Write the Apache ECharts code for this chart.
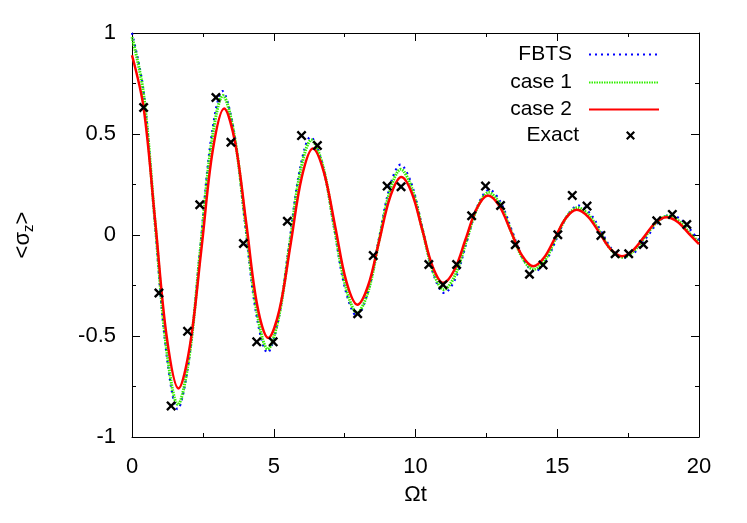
<!DOCTYPE html>
<html>
<head>
<meta charset="utf-8">
<script src="https://cdn.jsdelivr.net/npm/echarts@6/dist/echarts.min.js"></script>
<style>
html,body{margin:0;padding:0;background:#fff;}
#c{width:747px;height:523px;}
</style>
</head>
<body>
<div id="c"></div>
<script>
// ---- data ----
const xTicks = [0, 5, 10, 15, 20];
const yTicks = [-1, -0.5, 0, 0.5, 1];

const fbtsX = [0, 0.40, 0.8, 1.21, 1.61, 2.0, 2.4, 2.79, 3.19, 3.59, 3.98, 4.38, 4.78, 5.16, 5.54, 5.92, 6.30, 6.71, 7.12, 7.52, 7.93, 8.31, 8.7, 9.09, 9.47, 9.86, 10.25, 10.63, 11.02, 11.42, 11.81, 12.2, 12.6, 13.0, 13.4, 13.8, 14.2, 14.59, 14.98, 15.36, 15.75, 16.15, 16.55, 16.95, 17.35, 17.76, 18.18, 18.59, 19.0, 19.4, 19.8, 20];
const fbtsY = [1.0, 0.72, 0.07, -0.58, -0.862, -0.626, -0.075, 0.476, 0.712, 0.518, 0.065, -0.388, -0.582, -0.422, -0.049, 0.324, 0.485, 0.353, 0.043, -0.267, -0.40, -0.288, -0.026, 0.236, 0.348, 0.253, 0.03, -0.193, -0.287, -0.211, -0.032, 0.147, 0.224, 0.163, 0.022, -0.119, -0.18, -0.131, -0.017, 0.097, 0.146, 0.108, 0.017, -0.074, -0.113, -0.082, -0.007, 0.068, 0.10, 0.072, 0.008, -0.027];

const case1X = [0, 0.4, 0.81, 1.22, 1.62, 2.01, 2.41, 2.81, 3.21, 3.6, 4.0, 4.4, 4.79, 5.17, 5.56, 5.94, 6.33, 6.73, 7.13, 7.54, 7.94, 8.33, 8.71, 9.1, 9.48, 9.86, 10.24, 10.62, 11.0, 11.4, 11.79, 12.19, 12.58, 12.98, 13.37, 13.77, 14.17, 14.56, 14.94, 15.33, 15.72, 16.11, 16.51, 16.9, 17.3, 17.7, 18.1, 18.5, 18.9, 19.3, 19.7, 20];
const case1Y = [0.98, 0.707, 0.07, -0.567, -0.84, -0.61, -0.075, 0.46, 0.69, 0.5, 0.063, -0.377, -0.565, -0.41, -0.048, 0.315, 0.47, 0.343, 0.043, -0.257, -0.385, -0.279, -0.03, 0.219, 0.325, 0.236, 0.028, -0.18, -0.27, -0.198, -0.03, 0.138, 0.21, 0.153, 0.02, -0.113, -0.17, -0.125, -0.018, 0.089, 0.135, 0.099, 0.013, -0.073, -0.11, -0.079, -0.008, 0.063, 0.094, 0.068, 0.004, -0.035];

const case2X = [0, 0.41, 0.82, 1.23, 1.64, 2.04, 2.45, 2.85, 3.25, 3.64, 4.03, 4.42, 4.81, 5.2, 5.6, 5.99, 6.38, 6.77, 7.17, 7.56, 7.95, 8.33, 8.72, 9.11, 9.5, 9.87, 10.24, 10.61, 10.98, 11.38, 11.77, 12.16, 12.56, 12.96, 13.36, 13.75, 14.15, 14.53, 14.92, 15.3, 15.69, 16.09, 16.49, 16.88, 17.28, 17.67, 18.07, 18.46, 18.86, 19.25, 19.65, 20];
const case2Y = [0.89, 0.63, 0.065, -0.51, -0.76, -0.55, -0.067, 0.42, 0.626, 0.456, 0.058, -0.35, -0.51, -0.37, -0.041, 0.287, 0.428, 0.31, 0.04, -0.23, -0.345, -0.25, -0.029, 0.19, 0.287, 0.208, 0.025, -0.158, -0.237, -0.171, -0.02, 0.131, 0.196, 0.143, 0.02, -0.10, -0.155, -0.113, -0.015, 0.083, 0.125, 0.09, 0.01, -0.07, -0.105, -0.076, -0.008, 0.06, 0.088, 0.064, 0.006, -0.045];

const exactX = [0.41, 0.95, 1.38, 1.96, 2.39, 2.96, 3.49, 3.93, 4.40, 4.98, 5.48, 5.98, 6.54, 7.96, 8.51, 9.0, 9.49, 10.47, 10.97, 11.45, 11.98, 12.47, 13.0, 13.52, 14.02, 14.50, 15.02, 15.53, 16.05, 16.54, 17.04, 17.52, 18.04, 18.51, 19.06, 19.57];
const exactY = [0.631, -0.287, -0.846, -0.477, 0.150, 0.681, 0.459, -0.042, -0.529, -0.529, 0.068, 0.492, 0.443, -0.39, -0.102, 0.242, 0.239, -0.146, -0.246, -0.146, 0.095, 0.242, 0.146, -0.048, -0.194, -0.148, 0.001, 0.196, 0.143, -0.002, -0.093, -0.093, -0.047, 0.070, 0.102, 0.052];

const names = ['FBTS', 'case 1', 'case 2', 'Exact'];
// ---------------------------------------

const pairs = (xs, ys) => xs.map((x, i) => [x, ys[i]]);
const FONT = 'Liberation Sans, Arial, Helvetica, sans-serif';
const crossPath = 'path://M0,1.7L1.7,0L5,3.3L8.3,0L10,1.7L6.7,5L10,8.3L8.3,10L5,6.7L1.7,10L0,8.3L3.3,5Z';

const axisCommon = {
  type: 'value',
  axisLine: { show: true, onZero: false, lineStyle: { color: '#000', width: 1 } },
  axisTick: { show: true, inside: true, length: 8, lineStyle: { color: '#000', width: 1 } },
  minorTick: { show: true, splitNumber: 2, length: 4, lineStyle: { color: '#000', width: 1 } },
  splitLine: { show: false },
  minorSplitLine: { show: false }
};

const xmin = xTicks[0], xmax = xTicks[xTicks.length - 1], xint = xTicks[1] - xTicks[0];
const ymin = yTicks[0], ymax = yTicks[yTicks.length - 1], yint = yTicks[1] - yTicks[0];

function legendFor(name, rightPx, topPx, extra) {
  return Object.assign({
    data: [name],
    orient: 'vertical',
    align: 'right',
    right: rightPx,
    top: topPx,
    itemWidth: 70,
    itemHeight: 14,
    selectedMode: false,
    itemStyle: { color: 'transparent', borderWidth: 0, opacity: 0 },
    textStyle: { fontFamily: FONT, fontSize: 21, color: '#000', padding: [0, 12, 0, 0] }
  }, extra || {});
}

const option = {
  animation: false,
  backgroundColor: '#fff',
  grid: { left: 132, right: 48, top: 33, bottom: 86, containLabel: false },
  xAxis: [
    Object.assign({}, axisCommon, {
      position: 'bottom', min: xmin, max: xmax, interval: xint,
      name: 'Ωt', nameLocation: 'middle', nameGap: 47,
      nameTextStyle: { fontFamily: FONT, fontSize: 22, color: '#000' },
      axisLabel: { show: true, margin: 19, fontFamily: FONT, fontSize: 22, color: '#000' }
    }),
    Object.assign({}, axisCommon, {
      position: 'top', min: xmin, max: xmax, interval: xint,
      axisLabel: { show: false }
    })
  ],
  yAxis: [
    Object.assign({}, axisCommon, {
      position: 'left', min: ymin, max: ymax, interval: yint,
      name: '<σ{sub|z}>', nameLocation: 'middle', nameGap: 96, nameRotate: 90,
      nameTextStyle: {
        fontFamily: FONT, fontSize: 22, color: '#000',
        rich: { sub: { fontFamily: FONT, fontSize: 15, color: '#000', verticalAlign: 'bottom', padding: [12, 0, 0, 0] } }
      },
      axisLabel: { show: true, margin: 16, fontFamily: FONT, fontSize: 22, color: '#000' }
    }),
    Object.assign({}, axisCommon, {
      position: 'right', min: ymin, max: ymax, interval: yint,
      axisLabel: { show: false }
    })
  ],
  legend: [
    legendFor(names[0], 82, 39),
    legendFor(names[1], 82, 67),
    legendFor(names[2], 82, 94),
    legendFor(names[3], 107, 120, { itemWidth: 9, itemHeight: 9, itemStyle: {}, textStyle: { fontFamily: FONT, fontSize: 21, color: '#000', padding: [0, 42, 0, 0] } })
  ],
  series: [
    {
      name: names[0], type: 'line', data: pairs(fbtsX, fbtsY), smooth: 0.35,
      showSymbol: false, symbol: 'none', clip: true,
      lineStyle: { color: '#0000ff', width: 2.2, type: [2, 4] },
      itemStyle: { color: '#0000ff' }, z: 2
    },
    {
      name: names[1], type: 'line', data: pairs(case1X, case1Y), smooth: 0.35,
      showSymbol: false, symbol: 'none', clip: true,
      lineStyle: { color: '#33ee00', width: 3, type: [1.5, 1] },
      itemStyle: { color: '#33ee00' }, z: 3
    },
    {
      name: names[2], type: 'line', data: pairs(case2X, case2Y), smooth: 0.35,
      showSymbol: false, symbol: 'none', clip: true,
      lineStyle: { color: '#ff0000', width: 2.5, type: 'solid' },
      itemStyle: { color: '#ff0000' }, z: 4
    },
    {
      name: names[3], type: 'scatter', data: pairs(exactX, exactY),
      symbol: crossPath, symbolSize: 10,
      itemStyle: { color: '#000', opacity: 1 }, z: 5
    }
  ]
};

const chart = echarts.init(document.getElementById('c'), null, { renderer: 'canvas' });
chart.setOption(option);
</script>
</body>
</html>
